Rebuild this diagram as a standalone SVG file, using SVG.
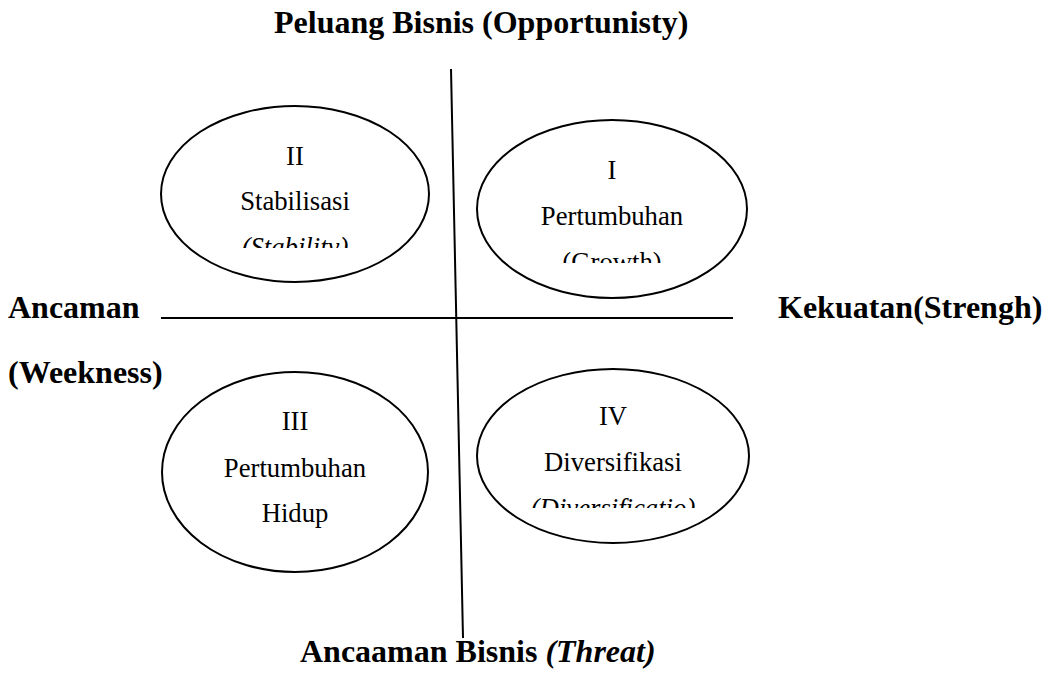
<svg xmlns="http://www.w3.org/2000/svg" width="1046" height="693" viewBox="0 0 1046 693">
<style>
.lbl{font-family:"Liberation Serif","Times New Roman",serif;font-weight:bold;font-size:32px;fill:#000}
.t{font-family:"Liberation Serif","Times New Roman",serif;font-size:26.7px;fill:#000;text-anchor:middle}
.e{fill:none;stroke:#000;stroke-width:2}
.ax{stroke:#000;stroke-width:2;fill:none}
</style>
<defs>
<clipPath id="c2"><rect x="150" y="100" width="300" height="148"/></clipPath>
<clipPath id="c1"><rect x="470" y="110" width="300" height="153"/></clipPath>
<clipPath id="c4"><rect x="470" y="360" width="300" height="148"/></clipPath>
</defs>
<rect width="1046" height="693" fill="#fff"/>
<g id="connectors">
<line class="ax" x1="451" y1="69" x2="463" y2="638"/>
<line class="ax" x1="161" y1="318" x2="733" y2="318"/>
</g>
<g id="labels">
<text class="lbl" x="274" y="33">Peluang Bisnis (Opportunisty)</text>
<text class="lbl" x="8" y="318">Ancaman</text>
<text class="lbl" x="8" y="383">(Weekness)</text>
<text class="lbl" x="778" y="318">Kekuatan(Strengh)</text>
<text class="lbl" x="300" y="662">Ancaaman Bisnis <tspan font-style="italic">(Threat)</tspan></text>
</g>
<g id="node-II">
<ellipse class="e" cx="295" cy="194" rx="134" ry="88"/>
<text class="t" x="295" y="165">II</text>
<text class="t" x="295" y="210">Stabilisasi</text>
<text class="t" x="295" y="256" font-style="italic" clip-path="url(#c2)">(Stability)</text>
</g>
<g id="node-I">
<ellipse class="e" cx="612" cy="209" rx="135" ry="89"/>
<text class="t" x="612" y="179">I</text>
<text class="t" x="612" y="225">Pertumbuhan</text>
<text class="t" x="612" y="271" clip-path="url(#c1)">(Growth)</text>
</g>
<g id="node-III">
<ellipse class="e" cx="295" cy="472" rx="133" ry="100"/>
<text class="t" x="295" y="430">III</text>
<text class="t" x="295" y="477">Pertumbuhan</text>
<text class="t" x="295" y="522">Hidup</text>
</g>
<g id="node-IV">
<ellipse class="e" cx="613" cy="456" rx="136" ry="87"/>
<text class="t" x="613" y="425">IV</text>
<text class="t" x="613" y="471">Diversifikasi</text>
<text class="t" x="613" y="517" font-style="italic" clip-path="url(#c4)">(Diversificatio)</text>
</g>
</svg>
